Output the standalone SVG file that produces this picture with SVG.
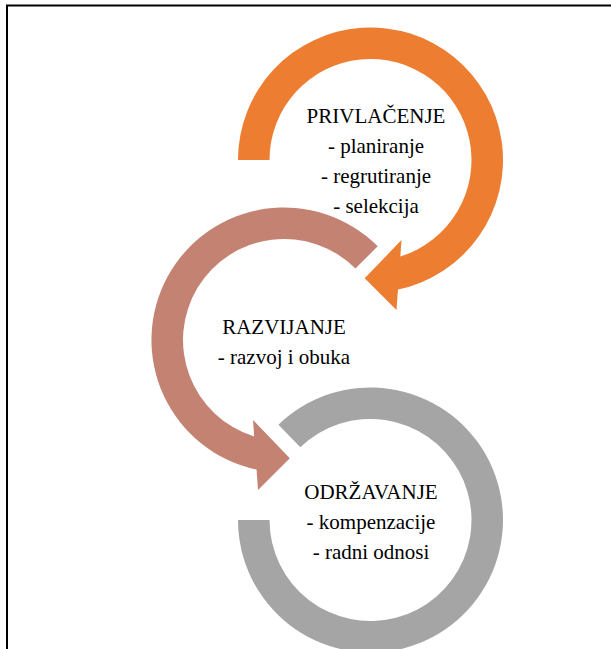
<svg xmlns="http://www.w3.org/2000/svg" width="611" height="649" viewBox="0 0 611 649">
<style>
text{font-family:'Liberation Serif','Times New Roman',Times,serif;font-size:21px;fill:#000;text-anchor:middle}
.frame{fill:none;stroke:#000;stroke-width:2}
</style>
<rect width="611" height="649" fill="#fff"/>
<path class="frame" d="M7,649 V5.5 H611"/>
<g id="connectors">
<path id="arrow-privlacenje" fill="#ED7D31" d="M238,160 A132.5,132.5 0 1 1 397.96,289.6 L396.5,310 L364.7,278.3 L401.5,240 L400.32,256.5 A101,101 0 1 0 269.5,160 Z"/>
<path id="arrow-razvijanje" fill="#C48272" d="M377.69,246.31 A132.5,132.5 0 1 0 256.54,469.6 L258,490 L289.8,458.3 L253,420 L254.18,436.5 A101,101 0 1 1 355.42,268.58 Z"/>
<path id="arc-odrzavanje" fill="#A5A5A5" d="M238,520 A132.5,132.5 0 1 0 278.46,424.69 L300.34,447.35 A101,101 0 1 1 269.5,520 Z"/>
</g>
<g id="node-privlacenje" font-family="Liberation Serif, serif">
<text x="376" y="122.5">PRIVLAČENJE</text>
<text x="376" y="153">- planiranje</text>
<text x="376" y="183">- regrutiranje</text>
<text x="376" y="213">- selekcija</text>
</g>
<g id="node-razvijanje" font-family="Liberation Serif, serif">
<text x="284" y="334">RAZVIJANJE</text>
<text x="284" y="364">- razvoj i obuka</text>
</g>
<g id="node-odrzavanje" font-family="Liberation Serif, serif">
<text x="371" y="499.3">ODRŽAVANJE</text>
<text x="371" y="529.3">- kompenzacije</text>
<text x="371" y="559.3">- radni odnosi</text>
</g>
</svg>
